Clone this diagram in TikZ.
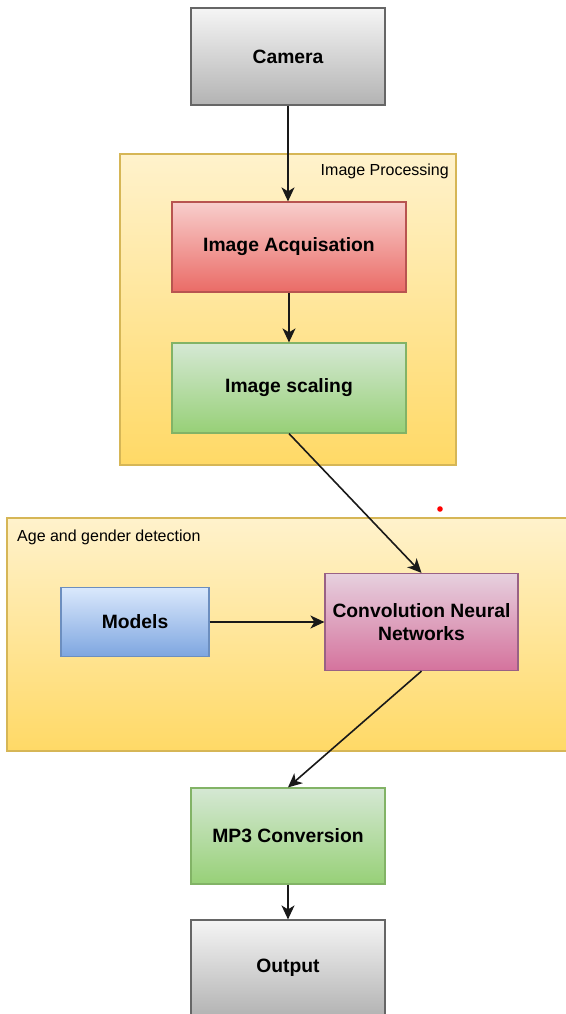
\documentclass[tikz,border=0pt]{standalone}
\usepackage{fontspec}
\setmainfont{Liberation Sans}
\usetikzlibrary{arrows.meta}

\definecolor{grayfill}{HTML}{F5F5F5}
\definecolor{graygrad}{HTML}{B3B3B3}
\definecolor{graystroke}{HTML}{666666}
\definecolor{redfill}{HTML}{F8CECC}
\definecolor{redgrad}{HTML}{EA6B66}
\definecolor{redstroke}{HTML}{B85450}
\definecolor{greenfill}{HTML}{D5E8D4}
\definecolor{greengrad}{HTML}{97D077}
\definecolor{greenstroke}{HTML}{82B366}
\definecolor{bluefill}{HTML}{DAE8FC}
\definecolor{bluegrad}{HTML}{7EA6E0}
\definecolor{bluestroke}{HTML}{6C8EBF}
\definecolor{pinkfill}{HTML}{E6D0DE}
\definecolor{pinkgrad}{HTML}{D5739D}
\definecolor{pinkstroke}{HTML}{996185}
\definecolor{yellowfill}{HTML}{FFF2CC}
\definecolor{yellowgrad}{HTML}{FFD966}
\definecolor{yellowstroke}{HTML}{D6B656}

\begin{document}
\begin{tikzpicture}[x=1pt,y=-1pt,
    box/.style={rectangle,line width=1.2pt,inner sep=0pt,align=center,
      font=\fontsize{19.3}{23}\selectfont\bfseries},
    graybox/.style={box,draw=graystroke,top color=grayfill,bottom color=graygrad},
    redbox/.style={box,draw=redstroke,top color=redfill,bottom color=redgrad},
    greenbox/.style={box,draw=greenstroke,top color=greenfill,bottom color=greengrad},
    bluebox/.style={box,draw=bluestroke,top color=bluefill,bottom color=bluegrad},
    pinkbox/.style={box,draw=pinkstroke,top color=pinkfill,bottom color=pinkgrad},
    group/.style={draw=yellowstroke,line width=1.2pt,top color=yellowfill,bottom color=yellowgrad},
    grouplabel/.style={font=\fontsize{16}{19}\selectfont,inner sep=0pt},
    flow/.style={-{Stealth[length=14pt,width=13pt,inset=4pt]},line width=1.6pt,black!90}]
    \useasboundingbox (0,0) rectangle (565,1014);

    % groups
    \draw[group] (120,154) rectangle (456,465);
    \draw[group] (7,518) rectangle (572,751);
    \node[grouplabel,anchor=east] (proclabel) at (449,171) {Image Processing};
    \node[grouplabel,anchor=west] (agelabel) at (17,537) {Age and gender detection};

    % boxes
    \node[graybox,minimum width=194,minimum height=97] (camera) at (288,56.5) {Camera};
    \node[redbox,minimum width=234,minimum height=90] (acq) at (289,247) {Image Acquisation};
    \node[greenbox,minimum width=234,minimum height=90] (scaling) at (289,388) {Image scaling};
    \node[bluebox,minimum width=148,minimum height=69] (models) at (135,622) {Models};
    \node[pinkbox,minimum width=193,minimum height=97] (cnn) at (421.5,622) {Convolution Neural\\Networks};
    \node[greenbox,minimum width=194,minimum height=96] (mp3) at (288,836) {MP3 Conversion};
    \node[graybox,minimum width=194,minimum height=96] (output) at (288,968) {Output};

    \fill[red] (440,509) circle (2.8);

    % arrows
    \draw[flow] (camera.south) -- (acq.north -| camera.south);
    \draw[flow] (acq) -- (scaling);
    \draw[flow] (scaling.south) -- (cnn.north);
    \draw[flow] (models) -- (cnn);
    \draw[flow] (cnn.south) -- (mp3.north);
    \draw[flow] (mp3) -- (output);
\end{tikzpicture}
\end{document}
